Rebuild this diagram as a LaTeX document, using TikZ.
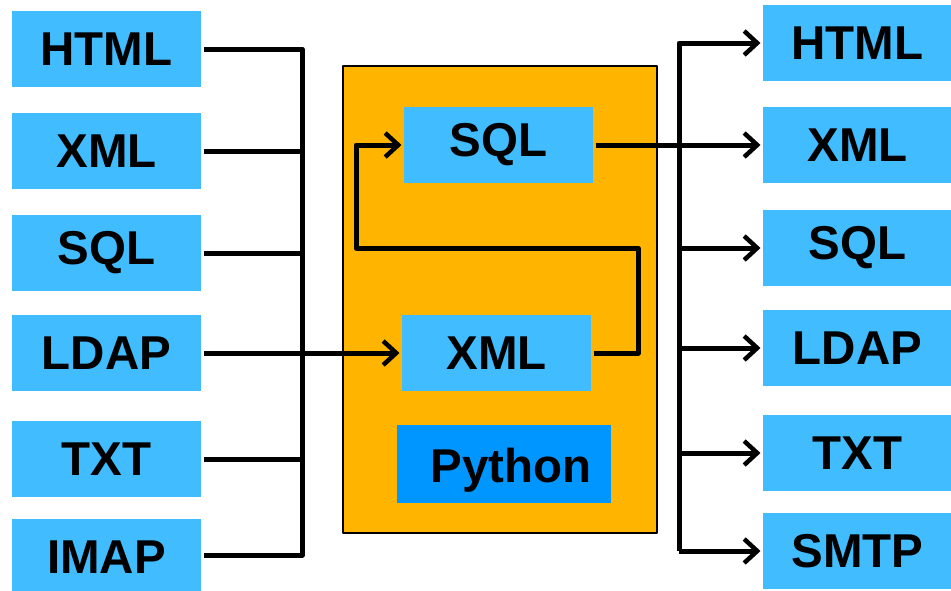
\documentclass[tikz,border=0pt]{standalone}
\usepackage{fontspec}
\setmainfont{Liberation Sans}
\usepackage{xcolor}
\usetikzlibrary{positioning, arrows.meta}
\definecolor{boxblue}{RGB}{64,188,255}
\definecolor{pyblue}{RGB}{0,150,255}
\definecolor{pyorange}{RGB}{255,180,0}

\begin{document}
\begin{tikzpicture}[x=1pt, y=-1pt, line width=5pt, line join=round,
        fmt/.style={fill=boxblue, minimum width=189pt, minimum height=76pt, inner sep=0pt,
            font=\fontsize{47.5}{50}\selectfont\bfseries},
        arr/.style={-{Straight Barb[length=13pt, width=24pt, line width=4.5pt]}}]
        \useasboundingbox (0,0) rectangle (951,590);

        % python box
        \node[draw, line width=2.5pt, fill=pyorange, minimum width=314pt, minimum height=467pt] (py) at (500,299.5) {};
        \node[fmt] (sqlin) at (498.5,145) {SQL};
        \node[fmt] (xmlin) at (496.5,353) {XML};
        \node[fmt, fill=pyblue, minimum width=214pt, minimum height=78pt] (python) at (504,464) {\hspace{14pt}\raisebox{-18pt}[0pt][0pt]{Python}};

        % input formats
        \node[fmt] (lhtml) at (106.5,49) {HTML};
        \node[fmt] (lxml) at (106.5,151) {XML};
        \node[fmt] (lsql) at (106.5,253) {SQL};
        \node[fmt] (lldap) at (106.5,353) {LDAP};
        \node[fmt] (ltxt) at (106.5,459) {TXT};
        \node[fmt] (limap) at (106.5,557) {IMAP};

        % output formats
        \node[fmt] (rhtml) at (857.5,43) {HTML};
        \node[fmt] (rxml) at (857.5,145) {XML};
        \node[fmt] (rsql) at (857.5,248) {SQL};
        \node[fmt] (rldap) at (857.5,348) {LDAP};
        \node[fmt] (rtxt) at (857.5,453) {TXT};
        \node[fmt] (rsmtp) at (857.5,551) {SMTP};

        \coordinate (lbustop) at (302,49);
        \coordinate (lbusbot) at (302,555);
        \coordinate (rbustop) at (679,43);
        \coordinate (rbusbot) at (679,551);
        \coordinate (loopr) at (638,248);
        \coordinate (loopl) at (356,248);

        \draw (lhtml.east) -- (lbustop) -- (lbusbot) -- (limap.east |- lbusbot);
        \draw (lxml.east) -- (lxml.east -| lbustop);
        \draw (lsql.east) -- (lsql.east -| lbustop);
        \draw (ltxt.east) -- (ltxt.east -| lbustop);
        \draw[arr] (lldap.east) -- (xmlin.west);

        \draw[arr] (xmlin.east) -| (loopr) -- (loopl) |- (sqlin.west);
        \draw[arr] (sqlin.east) -- (rxml.west);

        \draw[arr] (rbusbot) -- (rbustop) -- (rhtml.west);
        \draw[arr] (rbustop |- rsql.west) -- (rsql.west);
        \draw[arr] (rbustop |- rldap.west) -- (rldap.west);
        \draw[arr] (rbustop |- rtxt.west) -- (rtxt.west);
        \draw[arr] (rbusbot) -- (rsmtp.west);
    \end{tikzpicture}
\end{document}
